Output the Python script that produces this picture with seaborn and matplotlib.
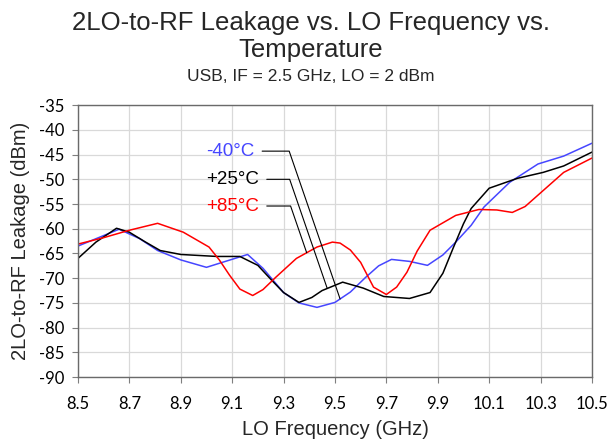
import numpy as np
import pandas as pd
import seaborn as sns
from matplotlib import pyplot as plt

# values (GHz, dBm)
freq_m40 = [8.5, 8.58, 8.66, 8.74, 8.81, 8.9, 9.0, 9.08, 9.16, 9.22, 9.30, 9.36, 9.43,
            9.5, 9.56, 9.62, 9.67, 9.72, 9.79, 9.86, 9.92, 9.97, 10.03, 10.08, 10.18,
            10.29, 10.39, 10.5]
leak_m40 = [-63.5, -61.8, -60.1, -62.0, -64.4, -66.3, -67.8, -66.5, -65.2, -68.0, -72.9,
            -75.0, -75.9, -74.9, -72.8, -69.8, -67.5, -66.2, -66.6, -67.4, -65.3, -62.7,
            -59.3, -55.6, -50.6, -46.9, -45.3, -42.7]

freq_p25 = [8.5, 8.57, 8.65, 8.70, 8.76, 8.82, 8.90, 9.04, 9.13, 9.20, 9.25, 9.30, 9.36,
            9.41, 9.45, 9.53, 9.61, 9.69, 9.79, 9.87, 9.92, 9.96, 10.00, 10.03, 10.10,
            10.21, 10.31, 10.39, 10.5]
leak_p25 = [-66.0, -62.7, -59.9, -60.7, -62.6, -64.4, -65.2, -65.6, -65.6, -67.4, -70.2,
            -72.9, -74.9, -73.9, -72.5, -70.8, -72.0, -73.7, -74.1, -72.9, -69.0, -63.9,
            -59.0, -55.9, -51.8, -49.8, -48.6, -47.3, -44.5]

freq_p85 = [8.5, 8.6, 8.70, 8.81, 8.91, 9.01, 9.05, 9.09, 9.13, 9.18, 9.22, 9.27, 9.35,
            9.43, 9.49, 9.52, 9.56, 9.60, 9.65, 9.70, 9.74, 9.78, 9.82, 9.87, 9.97,
            10.06, 10.13, 10.19, 10.24, 10.29, 10.39, 10.5]
leak_p85 = [-63.1, -61.8, -60.3, -58.9, -60.7, -63.7, -66.3, -69.4, -72.2, -73.5, -72.3,
            -69.8, -66.0, -63.7, -62.7, -62.9, -64.3, -66.8, -71.8, -73.3, -71.8, -68.8,
            -64.5, -60.3, -57.3, -56.1, -56.2, -56.7, -55.5, -53.2, -48.6, -45.7]

labels = ['-40°C', '+25°C', '+85°C']
colors = ['#4646ff', '#000000', '#ff0000']
# where each callout line meets its curve (GHz)
callout_freq = [9.52, 9.47, 9.39]

x_ticks = np.round(np.arange(8.5, 10.51, 0.2), 1)
y_ticks = np.arange(-90, -34, 5)

df = pd.concat([
    pd.DataFrame({'freq': freq_m40, 'leak': leak_m40, 'temp': labels[0]}),
    pd.DataFrame({'freq': freq_p25, 'leak': leak_p25, 'temp': labels[1]}),
    pd.DataFrame({'freq': freq_p85, 'leak': leak_p85, 'temp': labels[2]}),
])

sns.set_theme(style='whitegrid')
plt.rcParams['font.family'] = ['Liberation Sans', 'DejaVu Sans']
plt.rcParams['axes.unicode_minus'] = False

fig = plt.figure(figsize=(6.09, 4.40), dpi=100)
ax = fig.add_axes([0.128, 0.143, 0.844, 0.618])

sns.lineplot(data=df, x='freq', y='leak', hue='temp', palette=dict(zip(labels, colors)),
             lw=1.1, legend=False, ax=ax)

ax.set_xlim(8.5, 10.5)
ax.set_ylim(-90, -35)
ax.set_xticks(x_ticks)
ax.set_xticklabels([f'{t:.1f}' for t in x_ticks])
ax.set_yticks(y_ticks)
ax.set_yticklabels([str(t) for t in y_ticks])
ax.tick_params(axis='both', labelsize=12, labelcolor='#000000', color='#7f7f7f',
               length=4.5, width=0.8, direction='out', bottom=True, left=True)
ax.tick_params(axis='x', pad=9)
ax.tick_params(axis='y', pad=5)
for lab in ax.get_xticklabels() + ax.get_yticklabels():
    lab.set_fontfamily(['Lato', 'DejaVu Sans'])
ax.grid(True, color='#d9d9d9', lw=0.9)
for sp in ax.spines.values():
    sp.set_color('#6a6a6a')
    sp.set_linewidth(1.0)

ax.set_xlabel('LO Frequency (GHz)', fontsize=14.5, labelpad=6)
ax.set_ylabel('2LO-to-RF Leakage (dBm)', fontsize=14.5, labelpad=7)

fig.text(0.51, 0.918, '2LO-to-RF Leakage vs. LO Frequency vs.\nTemperature',
         ha='center', va='center', fontsize=18.5, linespacing=1.15)
fig.text(0.51, 0.826, 'USB, IF = 2.5 GHz, LO = 2 dBm', ha='center', va='center', fontsize=12.5)

series = [(freq_m40, leak_m40), (freq_p25, leak_p25), (freq_p85, leak_p85)]
label_y = [-44.3, -50.0, -55.4]
for (fx, fy), lab, col, cf, ly in zip(series, labels, colors, callout_freq, label_y):
    ax.annotate(lab, xy=(cf, np.interp(cf, fx, fy)), xytext=(9.0, ly),
                ha='left', va='center', fontsize=13.5, color=col,
                arrowprops=dict(arrowstyle='-', color='black', lw=0.8, relpos=(1, 0.5),
                                shrinkA=3, shrinkB=0,
                                connectionstyle='angle,angleA=0,angleB=109,rad=0'))

fig.savefig('out.png', dpi=100)
